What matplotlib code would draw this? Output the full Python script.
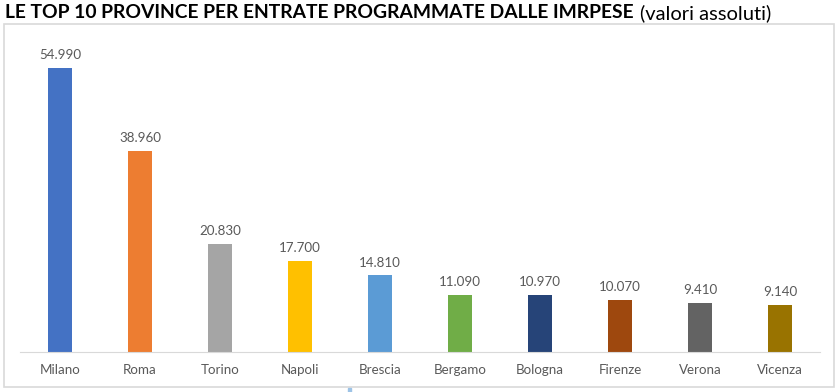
import matplotlib.pyplot as plt
from matplotlib.patches import Rectangle

province = ["Milano", "Roma", "Torino", "Napoli", "Brescia",
            "Bergamo", "Bologna", "Firenze", "Verona", "Vicenza"]
entrate = [54990, 38960, 20830, 17700, 14810, 11090, 10970, 10070, 9410, 9140]
colori = ["#4472C4", "#ED7D31", "#A5A5A5", "#FFC000", "#5B9BD5",
          "#70AD47", "#264478", "#9E480E", "#636363", "#997300"]

plt.rcParams["font.family"] = ["Lato", "DejaVu Sans"]

W, H = 839, 392
fig = plt.figure(figsize=(W / 100, H / 100), dpi=100)

# chart frame
fig.patches.append(Rectangle((4 / W, 1 - 387 / H), 830 / W, 363 / H,
                             transform=fig.transFigure, fill=False,
                             edgecolor="#D9D9D9", linewidth=1.2))
# little blue mark under the frame
fig.patches.append(Rectangle((348 / W, 0), 3 / W, 4 / H,
                             transform=fig.transFigure, color="#9DC3E6"))

ax = fig.add_axes([20 / W, 40 / H, 800 / W, 310 / H])
x = range(len(province))
bars = ax.bar(x, entrate, width=0.31, color=colori)

for b, v in zip(bars, entrate):
    ax.annotate(f"{v:,}".replace(",", "."),
                (b.get_x() + b.get_width() / 2, v),
                xytext=(0, 5), textcoords="offset points",
                ha="center", va="bottom", fontsize=9.6, color="#595959")

ax.set_xlim(-0.5, len(province) - 0.5)
ax.set_ylim(0, 60000)
ax.set_xticks(list(x))
ax.set_xticklabels(province, fontsize=9.6, color="#595959")
ax.tick_params(axis="x", length=0, pad=9)
ax.set_yticks([])
for s in ["top", "right", "left"]:
    ax.spines[s].set_visible(False)
ax.spines["bottom"].set_color("#D9D9D9")

t1 = fig.text(5 / W, 1 - 13 / H, "LE TOP 10 PROVINCE PER ENTRATE PROGRAMMATE DALLE IMRPESE",
              fontsize=13.9, fontweight="bold", va="center", ha="left", color="black")
fig.canvas.draw()
bb = t1.get_window_extent()
fig.text(bb.x1 / W + 6 / W, 1 - 13 / H, "(valori assoluti)",
         fontsize=14.5, va="center", ha="left", color="black")

fig.savefig("out.png", dpi=100)
